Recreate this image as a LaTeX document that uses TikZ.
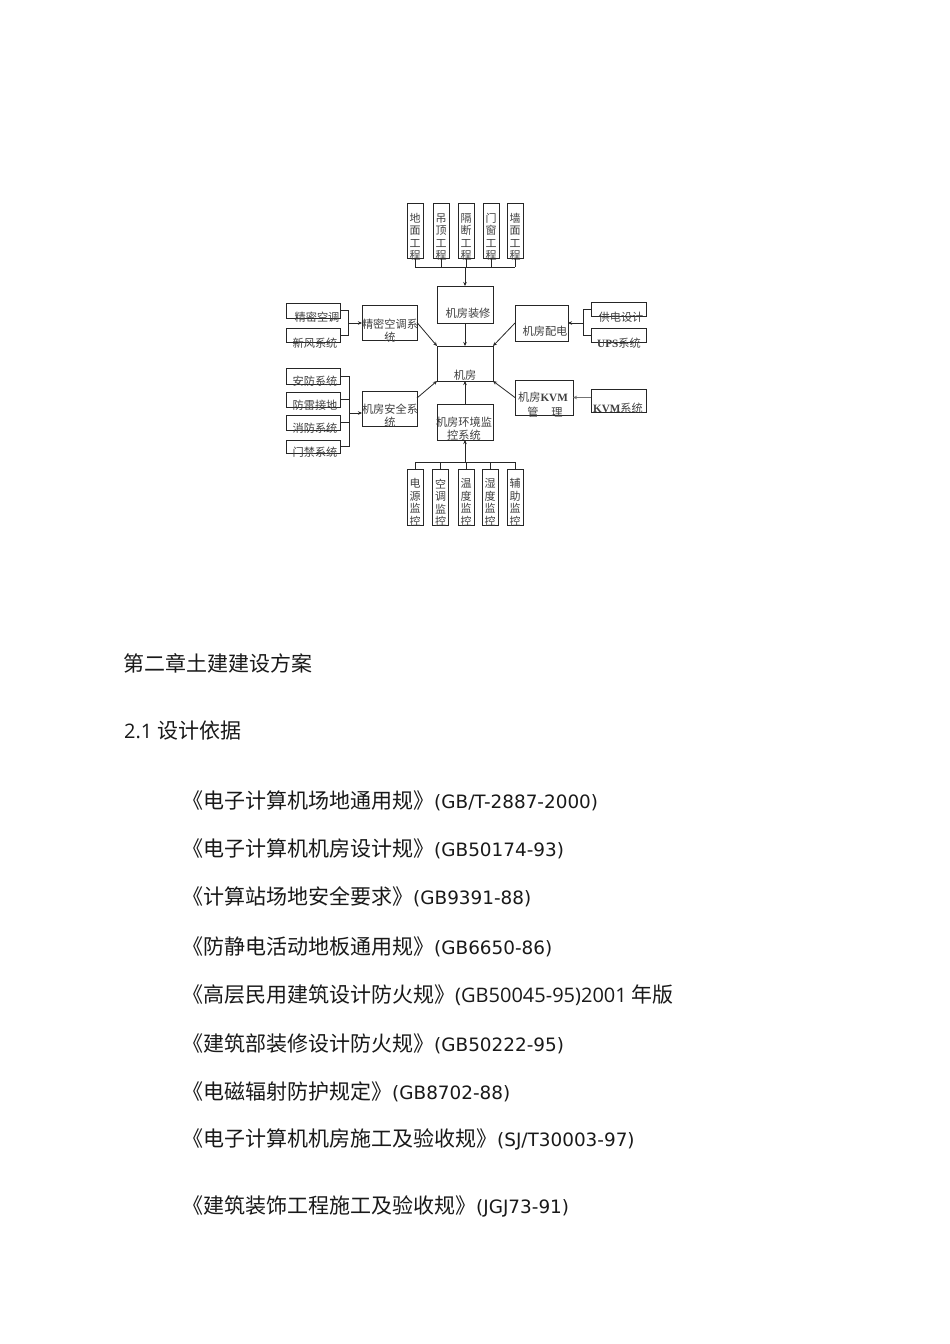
\documentclass[tikz,border=0pt]{standalone}
\usepackage{fontspec}
\setmainfont{DejaVu Sans}
\newfontfamily\cjk{Noto Sans CJK SC}
\newfontfamily\ser{Liberation Serif}
\newfontfamily\osans{Open Sans}
\usetikzlibrary{arrows.meta,calc}
\newcommand\refl[4]{\node[reftext] (#1) at (182,#2) {{\cjk\fontsize{21}{25}\selectfont #3}{\fontsize{18.4}{22}\selectfont #4}};}
\begin{document}
\begin{tikzpicture}[x=1pt,y=-1pt,
  box/.style={draw=black!85,line width=0.8pt,inner sep=0pt,outer sep=0pt},
  dt/.style={inner sep=0pt,text=black!75,font=\cjk\fontsize{11.2}{13}\selectfont,align=center},
  vt/.style={inner sep=0pt,text=black!75,font=\cjk\fontsize{11}{12.5}\selectfont,align=center},
  ln/.style={draw=black!85,line width=0.8pt},
  arr/.style={ln,-{Stealth[length=4pt,width=3.5pt]}},
  reftext/.style={anchor=base west,inner sep=0pt,text=black!90}]
\fill[white] (0,0) rectangle (950,1344);
\useasboundingbox (0,0) rectangle (950,1344);
% ---------- boxes ----------
\foreach \n/\x in {1/415,2/441,3/466,4/491,5/515}
  \node[box,minimum width=16pt,minimum height=55pt] (t\n) at (\x,230.5) {};
\foreach \n/\x in {1/415,2/440.5,3/466,4/490,5/515}
  \node[box,minimum width=16pt,minimum height=56pt] (b\n) at (\x,497) {};
\node[box,minimum width=56pt,minimum height=37pt] (zx) at (465,304.5) {};
\node[box,minimum width=56pt,minimum height=35pt] (jf) at (465,363.5) {};
\node[box,minimum width=53pt,minimum height=36pt] (pd) at (541.5,323) {};
\node[box,minimum width=55pt,minimum height=14pt] (gd) at (618.5,309) {};
\node[box,minimum width=55pt,minimum height=14pt] (ups) at (618.5,335) {};
\node[box,minimum width=54pt,minimum height=15pt] (jm) at (313,310.5) {};
\node[box,minimum width=54pt,minimum height=14pt] (xf) at (313,335) {};
\node[box,minimum width=55pt,minimum height=35pt] (kt) at (389.5,322.5) {};
\node[box,minimum width=55pt,minimum height=35pt] (aq) at (389.5,408.5) {};
\node[box,minimum width=54pt,minimum height=16pt] (af) at (313,376) {};
\node[box,minimum width=54pt,minimum height=15pt] (fl) at (313,399.5) {};
\node[box,minimum width=54pt,minimum height=15pt] (xfang) at (313,422.5) {};
\node[box,minimum width=54pt,minimum height=13pt] (mj) at (313,446.5) {};
\node[box,minimum width=58pt,minimum height=35pt] (kvm) at (544,397.5) {};
\node[box,minimum width=55pt,minimum height=23pt] (kvms) at (618.5,400.5) {};
\node[box,minimum width=56pt,minimum height=36pt] (hj) at (465,422) {};
% ---------- texts ----------
\node[vt] (t1l) at (415,237) {地\\面\\工\\程};
\node[vt] (t2l) at (441,237) {吊\\顶\\工\\程};
\node[vt] (t3l) at (466,237) {隔\\断\\工\\程};
\node[vt] (t4l) at (491,237) {门\\窗\\工\\程};
\node[vt] (t5l) at (515,237) {墙\\面\\工\\程};
\node[vt] (b1l) at (415,502.5) {电\\源\\监\\控};
\node[vt] (b2l) at (440.5,502.5) {空\\调\\监\\控};
\node[vt] (b3l) at (466,502.5) {温\\度\\监\\控};
\node[vt] (b4l) at (490,502.5) {湿\\度\\监\\控};
\node[vt] (b5l) at (515,502.5) {辅\\助\\监\\控};
\node[dt] (zxl) at (468,313) {机房装修};
\node[dt] (jfl) at (465,375) {机房};
\node[dt] (pdl) at (545,331) {机房配电};
\node[dt] (gdl) at (621,317) {供电设计};
\node[dt] (upsl) at (619,343) {{\ser\bfseries UPS}系统};
\node[dt] (jml) at (317,317) {精密空调};
\node[dt] (xfl) at (315,343) {新风系统};
\node[dt] (ktl) at (390,330.5) {精密空调系\\统};
\node[dt] (aql) at (390,416) {机房安全系\\统};
\node[dt] (afl) at (315,381) {安防系统};
\node[dt] (fll) at (315,405) {防雷接地};
\node[dt] (xfangl) at (315,428) {消防系统};
\node[dt] (mjl) at (315,452) {门禁系统};
\node[dt] (kvml) at (543,397) {机房{\ser\bfseries KVM}};
\node[dt] (kvml2) at (545,412) {管\hspace{13pt}理};
\node[dt] (kvmsl) at (618,408) {{\ser\bfseries KVM}系统};
\node[dt] (hjl) at (464,429) {机房环境监\\控系统};
% ---------- connectors ----------
\coordinate (tbus) at (465,267);
\foreach \n in {1,...,5} \draw[ln] (t\n.south) -- (t\n.south |- tbus);
\draw[ln] (t1.south |- tbus) -- (t5.south |- tbus);
\draw[arr] (tbus) -- (zx.north);
\draw[arr] (zx.south) -- (jf.north);
\coordinate (rb) at (583,323);
\draw[ln] (gd.west) -| (rb);
\draw[ln] (ups.west) -| (rb);
\draw[arr] (rb) -- (pd.east |- rb);
\draw[arr] (pd.west) -- (jf.north east);
\coordinate (lb1) at (348,323);
\draw[ln] (jm.east) -| (lb1);
\draw[ln] (xf.east) -| (lb1);
\draw[arr] (lb1) -- (kt.west |- lb1);
\draw[arr] (kt.east) -- (jf.north west);
\coordinate (lb2) at (349,413);
\draw[ln] (af.east) -| (lb2);
\draw[ln] (fl.east) -| (lb2);
\draw[ln] (xfang.east) -| (lb2);
\draw[ln] (mj.east) -| (lb2);
\draw[arr] (lb2) -- (aq.west |- lb2);
\draw[arr] ($(aq.north east)!0.2!(aq.south east)$) -- (jf.south west);
\draw[arr,draw=black!55] (kvms.west |- kvm.east) -- (kvm.east);
\draw[arr] (kvm.west) -- (jf.south east);
\draw[arr] (hj.north) -- (jf.south);
\coordinate (bbus) at (465,462);
\foreach \n in {1,...,5} \draw[ln] (b\n.north) -- (b\n.north |- bbus);
\draw[ln] (b1.north |- bbus) -- (b5.north |- bbus);
\draw[arr] (bbus) -- (hj.south);
% ---------- body text ----------
\node[reftext] (h1) at (123,671) {\cjk\fontsize{21}{25}\selectfont 第二章土建建设方案};
\node[reftext] (h2) at (124,738) {{\osans\fontsize{20}{24}\selectfont 2.1 }{\cjk\fontsize{21}{25}\selectfont 设计依据}};
\refl{r1}{808}{《电子计算机场地通用规》}{(GB/T-2887-2000)}
\refl{r2}{856}{《电子计算机机房设计规》}{(GB50174-93)}
\refl{r3}{904}{《计算站场地安全要求》}{(GB9391-88)}
\refl{r4}{954}{《防静电活动地板通用规》}{(GB6650-86)}
\refl{r5}{1002}{《高层民用建筑设计防火规》}{{\osans\fontsize{20}{24}\selectfont (GB50045-95)2001 }{\cjk\fontsize{21}{25}\selectfont 年版}}
\refl{r6}{1051}{《建筑部装修设计防火规》}{(GB50222-95)}
\refl{r7}{1099}{《电磁辐射防护规定》}{(GB8702-88)}
\refl{r8}{1146}{《电子计算机机房施工及验收规》}{(SJ/T30003-97)}
\refl{r9}{1213}{《建筑装饰工程施工及验收规》}{(JGJ73-91)}
\end{tikzpicture}
\end{document}
